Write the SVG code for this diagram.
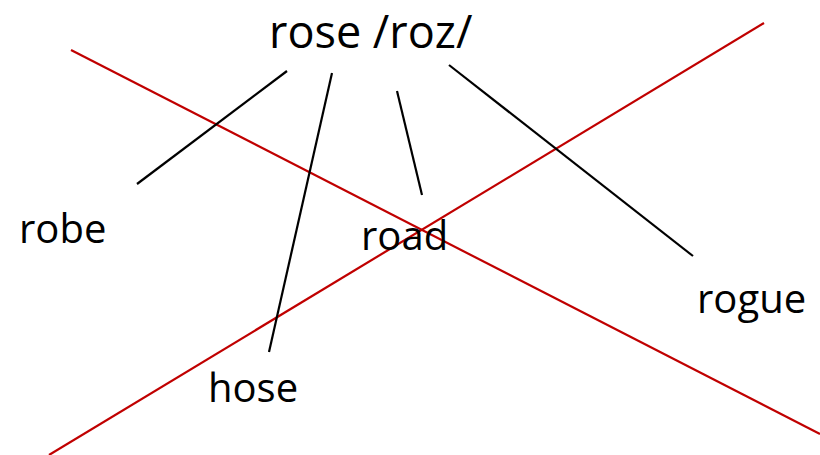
<svg xmlns="http://www.w3.org/2000/svg" width="820" height="455" viewBox="0 0 820 455">
<style>
text{font-family:"Open Sans","Liberation Sans",sans-serif;fill:#000}
.t{font-size:40px}
.h{font-size:45px}
.k{stroke:#000;stroke-width:2.2;fill:none}
.r{stroke:#c00000;stroke-width:2.2;fill:none}
</style>
<rect width="820" height="455" fill="#fff"/>
<g id="connectors">
<line class="r" x1="71" y1="50" x2="820" y2="434"/>
<line class="r" x1="49" y1="455" x2="764" y2="23"/>
<line class="k" x1="287" y1="71" x2="137" y2="184"/>
<line class="k" x1="332" y1="73" x2="269" y2="352"/>
<line class="k" x1="397" y1="91" x2="422" y2="195"/>
<line class="k" x1="449" y1="65" x2="693" y2="256"/>
</g>
<g id="rose"><text class="h" x="269" y="48">rose /roz/</text></g>
<g id="robe"><text class="t" x="19" y="243">robe</text></g>
<g id="road"><text class="t" x="361" y="250">road</text></g>
<g id="hose"><text class="t" x="208" y="402">hose</text></g>
<g id="rogue"><text class="t" x="697" y="313">rogue</text></g>
</svg>
